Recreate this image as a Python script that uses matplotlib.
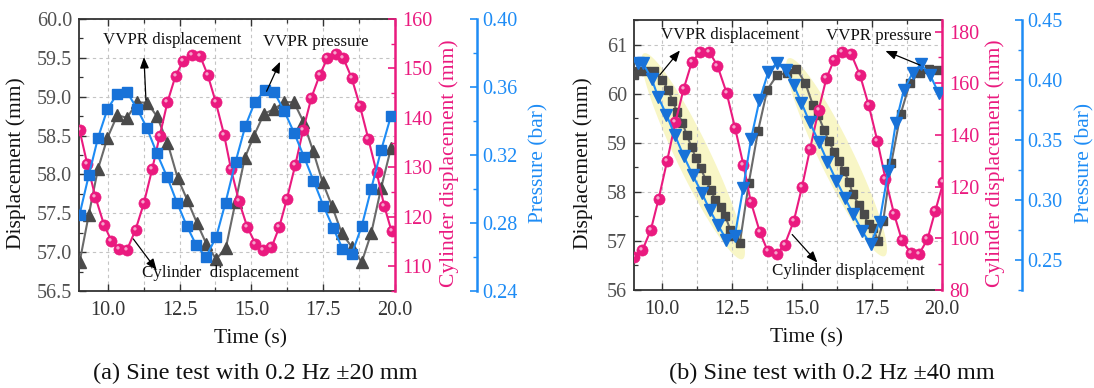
import numpy as np
import matplotlib
matplotlib.use('Agg')
import matplotlib.pyplot as plt
from matplotlib.path import Path
from matplotlib.patches import Polygon
from matplotlib.ticker import MultipleLocator, FormatStrFormatter

plt.rcParams['font.family'] = ['Liberation Serif', 'DejaVu Serif']

# ---------------- data: panel (a) 0.2 Hz +-20 mm ----------------
t_a_vvpr = [9.02, 9.34, 9.66, 9.99, 10.33, 10.67, 11.03, 11.38, 11.71, 12.08, 12.43,
            12.77, 13.10, 13.43, 13.77, 14.11, 14.45, 14.77, 15.09, 15.44, 15.79, 16.14,
            16.48, 16.81, 17.15, 17.48, 17.81, 18.15, 18.49, 18.84, 19.17, 19.52, 19.86]
disp_a_vvpr = [56.87, 57.48, 58.07, 58.47, 58.76, 58.73, 58.93, 58.92, 58.75, 58.41, 57.96,
               57.67, 57.38, 57.11, 56.91, 57.05, 57.65, 58.21, 58.50, 58.78, 58.84, 58.93,
               58.93, 58.68, 58.30, 57.90, 57.59, 57.24, 57.07, 56.87, 57.24, 57.83, 58.34]

t_a_pres = [9.02, 9.34, 9.66, 9.99, 10.33, 10.67, 11.03, 11.36, 11.71, 12.07, 12.41,
            12.76, 13.08, 13.42, 13.78, 14.10, 14.45, 14.79, 15.12, 15.47, 15.79, 16.14,
            16.49, 16.83, 17.16, 17.51, 17.85, 18.17, 18.50, 18.84, 19.17, 19.52, 19.86]
pres_a = [0.285, 0.308, 0.330, 0.347, 0.356, 0.357, 0.347, 0.336, 0.321, 0.307, 0.292,
          0.278, 0.267, 0.260, 0.272, 0.292, 0.316, 0.337, 0.351, 0.358, 0.357, 0.346,
          0.333, 0.319, 0.305, 0.290, 0.277, 0.265, 0.262, 0.278, 0.300, 0.323, 0.343]

t_a_cyl = [9.02, 9.29, 9.57, 9.87, 10.13, 10.40, 10.67, 10.97, 11.26, 11.55, 11.81, 12.08,
           12.36, 12.63, 12.92, 13.21, 13.48, 13.76, 14.05, 14.29, 14.57, 14.86, 15.14, 15.41,
           15.70, 15.97, 16.24, 16.53, 16.80, 17.09, 17.38, 17.65, 17.93, 18.20, 18.49, 18.78,
           19.07, 19.36, 19.63, 19.88]
cyl_a = [137.5, 130.6, 124.0, 118.4, 115.1, 113.5, 113.3, 117.4, 122.8, 129.7, 136.4, 143.2,
         148.5, 151.5, 152.8, 152.6, 148.7, 143.2, 136.6, 129.7, 123.1, 117.9, 114.6, 113.2,
         113.8, 117.9, 123.7, 130.5, 137.5, 144.1, 148.7, 152.1, 152.9, 152.1, 148.1, 142.4,
         135.8, 129.0, 122.1, 117.1]

# ---------------- data: panel (b) 0.2 Hz +-40 mm ----------------
t_b_vvpr = [9.01, 9.17, 9.44, 9.70, 10.01, 10.22, 10.37, 10.54, 10.73, 10.88, 11.06, 11.21,
            11.38, 11.57, 11.74, 11.90, 12.10, 12.26, 12.44, 12.58, 12.78, 13.10, 13.43,
            13.76, 14.10, 14.46, 14.80, 15.12, 15.39, 15.57, 15.79, 15.95, 16.14, 16.32,
            16.50, 16.67, 16.82, 17.02, 17.20, 17.38, 17.54, 17.71, 17.90, 18.19, 18.52,
            18.85, 19.20, 19.52, 19.86]
disp_b_vvpr = [60.37, 60.46, 60.47, 60.46, 60.28, 60.08, 59.86, 59.63, 59.41, 59.16, 58.91,
               58.68, 58.48, 58.24, 58.04, 57.84, 57.70, 57.50, 57.23, 57.09, 56.96, 58.18,
               59.24, 60.08, 60.37, 60.42, 60.51, 60.21, 59.77, 59.57, 59.26, 59.04, 58.82,
               58.62, 58.42, 58.21, 57.95, 57.74, 57.54, 57.34, 57.27, 57.00, 57.40, 58.59,
               59.58, 60.21, 60.43, 60.50, 60.48]

t_b_pres = [9.14, 9.32, 9.63, 9.86, 10.16, 10.46, 10.77, 11.09, 11.42, 11.70, 12.00, 12.30,
            12.60, 12.90, 13.18, 13.48, 13.80, 14.10, 14.44, 14.70, 14.98, 15.27, 15.61,
            15.91, 16.23, 16.53, 16.83, 17.15, 17.45, 17.77, 18.08, 18.35, 18.64, 18.95,
            19.25, 19.58, 19.88]
pres_b = [0.414, 0.414, 0.401, 0.386, 0.371, 0.354, 0.337, 0.321, 0.306, 0.292, 0.279, 0.267,
          0.270, 0.310, 0.351, 0.383, 0.407, 0.414, 0.408, 0.396, 0.381, 0.365, 0.348,
          0.332, 0.316, 0.302, 0.288, 0.274, 0.263, 0.282, 0.324, 0.364, 0.392, 0.406,
          0.413, 0.404, 0.389]

t_b_cyl = [9.00, 9.30, 9.60, 9.88, 10.18, 10.48, 10.77, 11.07, 11.37, 11.68, 11.98, 12.31,
           12.61, 12.91, 13.17, 13.49, 13.77, 14.09, 14.38, 14.71, 15.00, 15.29, 15.59, 15.87,
           16.14, 16.44, 16.76, 17.07, 17.38, 17.69, 17.98, 18.29, 18.57, 18.88, 19.18, 19.48,
           19.76, 20.05]
cyl_b = [92.9, 95.4, 103.2, 115.3, 129.8, 145.0, 157.7, 168.4, 172.0, 172.3, 166.8, 156.2,
         142.7, 128.3, 114.2, 102.6, 95.2, 93.9, 97.5, 106.8, 119.9, 134.7, 149.5, 161.9,
         168.9, 172.3, 171.2, 163.2, 151.6, 137.8, 123.1, 109.3, 99.2, 94.4, 93.9, 99.6,
         110.6, 121.8]

captions = ['(a) Sine test with 0.2 Hz \u00b120 mm', '(b) Sine test with 0.2 Hz \u00b140 mm']

PINK = '#EA1A7F'
BLUE = '#1E8CF5'
BLUE_M = '#1872D8'
GRAY_M = '#4a4a4a'
GRAY_L = '#6a6a6a'
TICKC = '#505050'
TS = 14.5
LS = 15.5

fig = plt.figure(figsize=(10.94, 3.88), dpi=100)
W, H = 1094.0, 388.0
PT = 72.0 / 100.0  # points per pixel


def hl_marker():
    c = Path.circle(center=(-0.28, 0.30), radius=0.30)
    verts = np.vstack([c.vertices, [[-1, -1], [1, 1]]])
    codes = np.concatenate([c.codes, [Path.MOVETO, Path.MOVETO]])
    return Path(verts, codes)


HL = hl_marker()


def make_panel(px_box, dlim, dmaj, dmin, dfmt, clim, cmaj, cmin, plim, pmaj, pmin, pfmt,
               blue_off_px, lab):
    l, r, t, b = px_box
    ax = fig.add_axes([l / W, 1 - b / H, (r - l) / W, (b - t) / H])
    ax2 = ax.twinx()
    ax3 = ax.twinx()
    ax.set_xlim(9, 20)
    ax.set_ylim(*dlim)
    ax2.set_ylim(*clim)
    ax3.set_ylim(*plim)

    ax.xaxis.set_major_locator(MultipleLocator(2.5))
    ax.xaxis.set_minor_locator(MultipleLocator(1.25))
    ax.xaxis.set_major_formatter(FormatStrFormatter('%.1f'))
    ax.yaxis.set_major_locator(MultipleLocator(dmaj))
    ax.yaxis.set_minor_locator(MultipleLocator(dmin))
    ax.yaxis.set_major_formatter(FormatStrFormatter(dfmt))
    ax2.yaxis.set_major_locator(MultipleLocator(cmaj))
    ax2.yaxis.set_minor_locator(MultipleLocator(cmin))
    ax2.yaxis.set_major_formatter(FormatStrFormatter('%d'))
    ax3.yaxis.set_major_locator(MultipleLocator(pmaj))
    ax3.yaxis.set_minor_locator(MultipleLocator(pmin))
    ax3.yaxis.set_major_formatter(FormatStrFormatter(pfmt))

    ax.grid(True, which='major', axis='y', color='#c4c4c4', ls=(0, (3, 3)), lw=0.8)
    ax.grid(True, which='both', axis='x', color='#c4c4c4', ls=(0, (3, 3)), lw=0.8)

    for s in ['left', 'top', 'bottom']:
        ax.spines[s].set_color('#333333')
        ax.spines[s].set_linewidth(1.3)
    ax.spines['right'].set_visible(False)
    for s in ['left', 'top', 'bottom']:
        ax2.spines[s].set_visible(False)
        ax3.spines[s].set_visible(False)
    ax2.spines['right'].set_color(PINK)
    ax2.spines['right'].set_linewidth(1.8)
    ax3.spines['right'].set_color(BLUE)
    ax3.spines['right'].set_linewidth(1.8)
    ax3.spines['right'].set_position(('outward', blue_off_px * PT))

    ax.tick_params(which='both', direction='in', top=True, right=False,
                   colors='#333333', labelcolor=TICKC, labelsize=TS, pad=5)
    ax.tick_params(which='major', length=5, width=1.0)
    ax.tick_params(which='minor', length=3, width=0.9)
    ax.tick_params(axis='x', labelcolor='#333333', pad=7)
    ax2.tick_params(which='both', direction='in', colors=PINK, labelsize=TS, pad=5)
    ax2.tick_params(which='major', length=5, width=1.2)
    ax2.tick_params(which='minor', length=3, width=1.0)
    ax3.tick_params(which='both', direction='in', colors=BLUE, labelsize=TS, pad=4)
    ax3.tick_params(which='major', length=5, width=1.2)
    ax3.tick_params(which='minor', length=3, width=1.0)

    ax.set_xlabel('Time (s)', fontsize=LS, color='#111111')
    ax.set_ylabel('Displacement (mm)', fontsize=LS, color='#111111')
    ax2.set_ylabel('Cylinder displacement (mm)', fontsize=LS, color=PINK)
    ax3.set_ylabel('Pressure (bar)', fontsize=LS, color=BLUE)
    wpx = r - l
    ax.xaxis.set_label_coords((lab[0] - l) / wpx, -0.14)
    ax.yaxis.set_label_coords((lab[1] + 8 - l) / wpx, 0.47)
    ax2.yaxis.set_label_coords((lab[2] - 8 - l) / wpx, 0.47)
    ax3.yaxis.set_label_coords((lab[3] - 8 - l) / wpx, 0.47)
    return ax, ax2, ax3


def pink_series(ax2, t, c):
    ax2.plot(t, c, '-', color=PINK, lw=1.5, zorder=3)
    ax2.plot(t, c, 'o', ms=8.0, mfc=PINK, mec=PINK, mew=0.5, zorder=4)
    ax2.plot(t, c, ls='none', marker=HL, ms=8.0, mfc='white', mec='none', alpha=0.6, zorder=5)


def ellipse(ax, p0, p1, minor_px, color='#f8f6c6'):
    d0 = ax.transData.transform(p0)
    d1 = ax.transData.transform(p1)
    c = (d0 + d1) / 2
    v = d1 - d0
    L = np.hypot(*v)
    u = v / L
    n = np.array([-u[1], u[0]])
    th = np.linspace(0, 2 * np.pi, 200)
    pts = c + np.outer(np.cos(th) * L / 2, u) + np.outer(np.sin(th) * minor_px / 2, n)
    dpts = ax.transData.inverted().transform(pts)
    ax.add_patch(Polygon(dpts, closed=True, facecolor=color, edgecolor='none', zorder=0.5))


def note(axtop, ax, text, pos, tail, head):
    axtop.text(pos[0], pos[1], text, transform=ax.transData, ha='center', va='center',
               fontsize=12.2, color='#111111', zorder=10)
    axtop.annotate('', xy=head, xycoords=ax.transData, xytext=tail, textcoords=ax.transData,
                   arrowprops=dict(arrowstyle='-|>,head_length=0.55,head_width=0.22',
                                   color='black', lw=0.9, shrinkA=0, shrinkB=0,
                                   mutation_scale=12), zorder=10)


# ---------------- panel (a) ----------------
axA, axA2, axA3 = make_panel((79, 395, 19, 291), (56.5, 60.0), 0.5, 0.25, '%.1f',
                             (105, 160), 10, 5, (0.24, 0.40), 0.04, 0.02, '%.2f', 82,
                             (251, 18, 447, 537))
axA.plot(t_a_vvpr, disp_a_vvpr, '-', color=GRAY_L, lw=1.5, zorder=3)
axA.plot(t_a_vvpr, disp_a_vvpr, '^', ms=8.5, color=GRAY_M, mec=GRAY_M, zorder=4)
pink_series(axA2, t_a_cyl, cyl_a)
axA3.plot(t_a_pres, pres_a, '-', color=BLUE, lw=1.5, zorder=3)
axA3.plot(t_a_pres, pres_a, 's', ms=7.0, color=BLUE_M, mec=BLUE_M, zorder=4)
note(axA3, axA, 'VVPR displacement', (12.24, 59.73), (11.33, 58.96), (11.26, 59.51))
note(axA3, axA, 'VVPR pressure', (17.25, 59.70), (15.53, 59.07), (16.00, 59.45))
note(axA3, axA, 'Cylinder  displacement', (13.94, 56.73), (10.89, 57.17), (11.70, 56.77))

# ---------------- panel (b) ----------------
axB, axB2, axB3 = make_panel((634, 942, 20, 290), (56, 61.5), 1, 0.5, '%d',
                             (80, 184.5), 20, 10, (0.225, 0.45), 0.05, 0.025, '%.2f', 80,
                             (806, 585, 993, 1083))
ellipse(axB, (9.35, 60.82), (12.88, 56.63), 34)
ellipse(axB, (14.52, 60.72), (17.95, 56.69), 34)
axB.plot(t_b_vvpr, disp_b_vvpr, '-', color=GRAY_L, lw=1.5, zorder=3)
axB.plot(t_b_vvpr, disp_b_vvpr, 's', ms=6.0, color=GRAY_M, mec=GRAY_M, zorder=4)
pink_series(axB2, t_b_cyl, cyl_b)
axB3.plot(t_b_pres, pres_b, '-', color=BLUE, lw=1.5, zorder=3)
axB3.plot(t_b_pres, pres_b, 'v', ms=8.0, color=BLUE_M, mec=BLUE_M, zorder=4)
note(axB3, axB, 'VVPR displacement', (12.45, 61.19), (9.92, 60.38), (10.64, 60.88))
note(axB3, axB, 'VVPR pressure', (17.74, 61.17), (19.22, 60.58), (17.98, 60.87))
note(axB3, axB, 'Cylinder displacement', (16.66, 56.38), (14.65, 57.13), (15.55, 56.56))

fig.text(255 / W, 1 - 373 / H, captions[0], ha='center', va='center', fontsize=17.5, color='#111111')
fig.text(832 / W, 1 - 373 / H, captions[1], ha='center', va='center', fontsize=17.5, color='#111111')

fig.savefig('out.png', dpi=100)
